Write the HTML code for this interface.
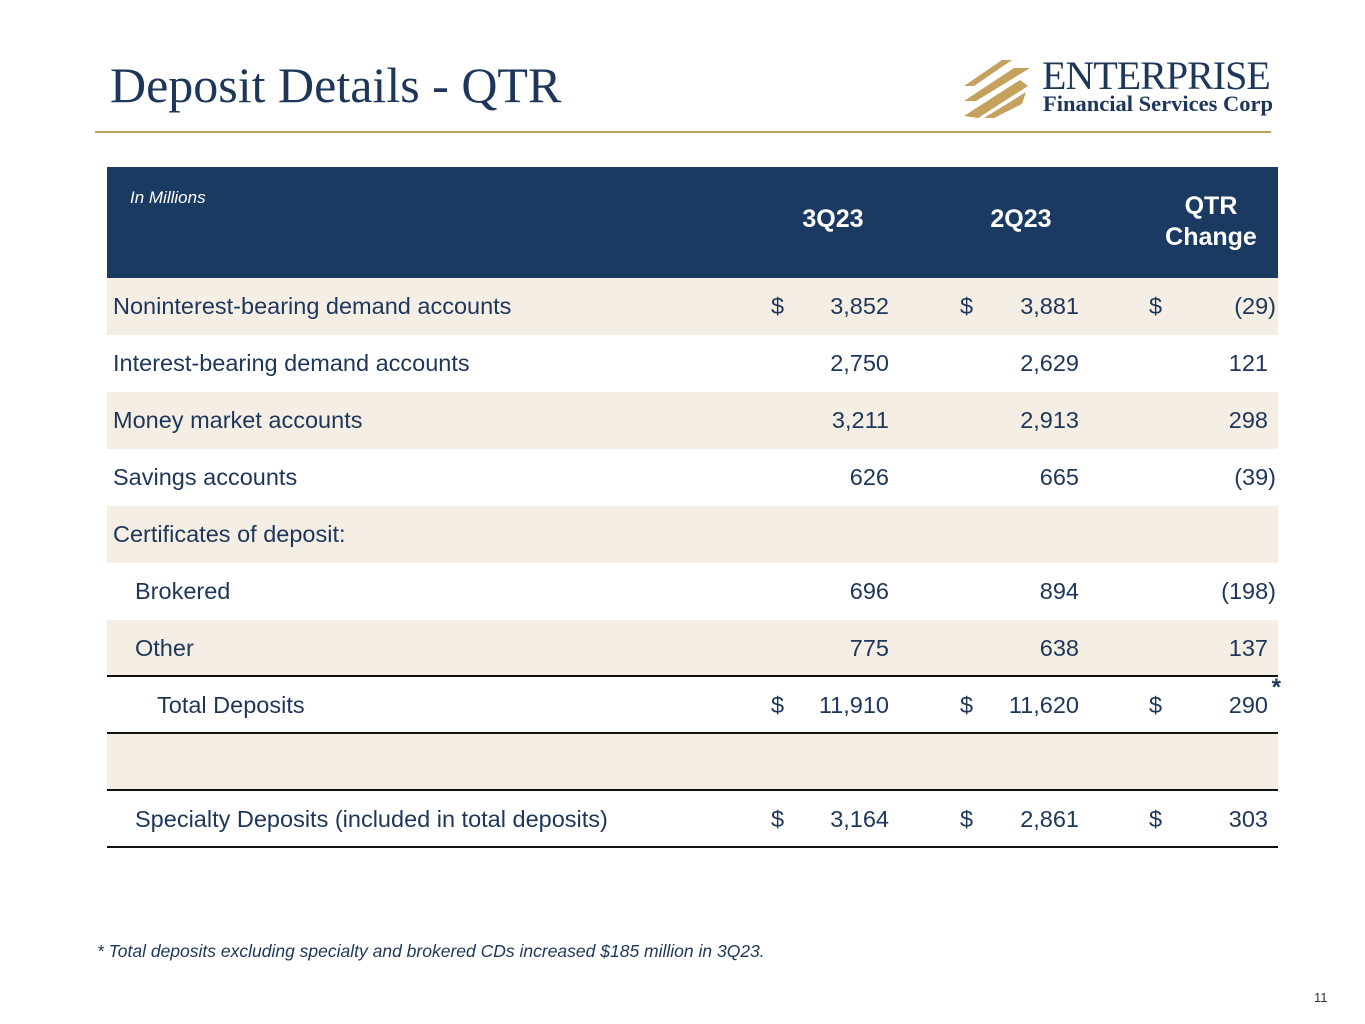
<!DOCTYPE html>
<html><head><meta charset="utf-8"><style>
body{margin:0;width:1365px;height:1024px;background:#fff;position:relative;overflow:hidden;font-family:"Liberation Sans",sans-serif;color:#1d365a}
.a{position:absolute;white-space:nowrap}
.row{position:absolute;left:107px;width:1171px;height:57px}
.cell{position:absolute;top:0;line-height:57px;font-size:23.5px;white-space:nowrap}
.hl{position:absolute;left:107px;width:1171px;height:2px;background:#111}
</style></head><body>
<div class="a" style="left:110px;top:56px;font-family:'Liberation Serif',serif;font-size:50px;color:#1d365a">Deposit Details - QTR</div>
<div class="a" style="left:95px;top:131px;width:1176px;height:2px;background:#c4a25e"></div>
<div class="a" style="left:962px;top:56px;width:310px;height:66px">
<svg width="70" height="66" style="position:absolute;left:0;top:0">
<g fill="#c4a25e"><polygon points="2,30 40,4 50,4 12,30"/><polygon points="2,45 52,12 68,12 14,45"/><polygon points="2,60 58,24 66,30 16,62"/><polygon points="22,62 64,36 60,48 32,62"/></g></svg>
<div class="a" style="left:80px;top:-4px;font-family:'Liberation Serif',serif;font-size:40px;color:#1d365a;letter-spacing:-1px">ENTERPRISE</div>
<div class="a" style="left:81px;top:35px;font-family:'Liberation Serif',serif;font-size:22.5px;font-weight:bold;color:#1d365a">Financial Services Corp</div>
</div>
<div class="a" style="left:107px;top:167px;width:1171px;height:111px;background:#1b3a62"></div>
<div class="a" style="left:130px;top:188px;font-size:17px;font-style:italic;color:#fff">In Millions</div>
<div class="a" style="left:778px;top:205px;width:110px;text-align:center;font-size:25px;font-weight:bold;color:#fff">3Q23</div>
<div class="a" style="left:966px;top:205px;width:110px;text-align:center;font-size:25px;font-weight:bold;color:#fff">2Q23</div>
<div class="a" style="left:1151px;top:191px;width:120px;text-align:center;font-size:25px;font-weight:bold;color:#fff;line-height:31px">QTR<br>Change</div>
<div id="tbl"></div>
<div class="a" style="left:97px;top:941px;font-size:17.5px;font-style:italic">* Total deposits excluding specialty and brokered CDs increased $185 million in 3Q23.</div>
<div class="a" style="left:1314px;top:990px;font-size:13px;color:#333">11</div>
<script>
const labels=["Noninterest-bearing demand accounts","Interest-bearing demand accounts","Money market accounts","Savings accounts","Certificates of deposit:","Brokered","Other","Total Deposits","","Specialty Deposits (included in total deposits)"];
const indents=[113,113,113,113,113,135,135,157,113,135];
const q3=["3,852","2,750","3,211","626","","696","775","11,910","","3,164"];
const q2=["3,881","2,629","2,913","665","","894","638","11,620","","2,861"];
const chg=["(29)","121","298","(39)","","(198)","137","290","","303"];
const dollar=[1,0,0,0,0,0,0,1,0,1];
const tbl=document.getElementById('tbl');
labels.forEach((l,i)=>{
  const r=document.createElement('div');r.className='row';
  
  
  r.style.top=(278+57*i)+'px';
  r.style.background=(i%2==0)?'#f5eee4':'#fff';
  let h='<div class="cell" style="left:'+(indents[i]-107)+'px">'+l+'</div>';
  const cols=[[q3[i],889],[q2[i],1079],[chg[i],1268]];
  const ds=[771,960,1149];
  cols.forEach((c,k)=>{
    if(dollar[i]) h+='<div class="cell" style="left:'+(ds[k]-107)+'px">$</div>';
    let right=c[1]; if(c[0].startsWith('(')) right+=8;
    h+='<div class="cell" style="right:'+(1278-right)+'px">'+c[0]+(i==7&&k==2?'<span style="position:absolute;top:-18px;right:-13px;font-size:24px;font-weight:bold">*</span>':'')+'</div>';
  });
  r.innerHTML=h;tbl.appendChild(r);
});
[676,733,790,847].forEach(y=>{
  const d=document.createElement('div');d.className='hl';
  
  
  d.style.top=(y-1)+'px';tbl.appendChild(d);
});
</script>
</body></html>
